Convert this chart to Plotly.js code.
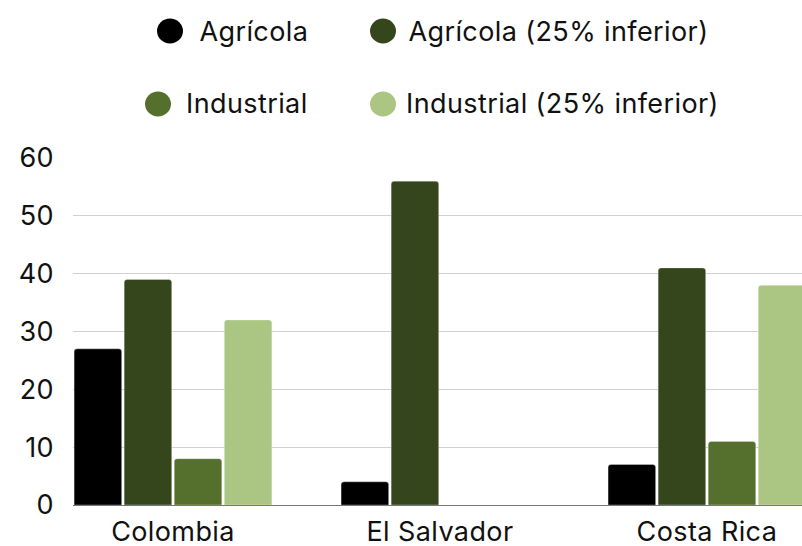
<!DOCTYPE html>
<html>
<head>
<meta charset="utf-8">
<script src="https://cdn.plot.ly/plotly-3.0.1.min.js"></script>
<style>
html,body{margin:0;padding:0;background:#fff;}
#chart{width:802px;height:546px;}
#chart text{letter-spacing:0.4px;}
</style>
</head>
<body>
<div id="chart"></div>
<script>
const categories = ["Colombia", "El Salvador", "Costa Rica"];
const seriesNames = ["Agrícola", "Agrícola (25% inferior)", "Industrial", "Industrial (25% inferior)"];
const agricola = [27, 4, 7];
const agricola25 = [39, 56, 41];
const industrial = [8, null, 11];
const industrial25 = [32, null, 38];
const colors = ["#000000", "#36461c", "#55702d", "#abc682"];
const yTicks = [0, 10, 20, 30, 40, 50, 60];

const values = [agricola, agricola25, industrial, industrial25];
const FONT = "Inter, 'Noto Sans', sans-serif";
const FS = 27;

const traces = values.map((v, i) => ({
  type: "bar",
  name: seriesNames[i],
  x: categories,
  y: v,
  marker: {color: colors[i], line: {color: "rgba(255,255,255,0.6)", width: 0.5}, cornerradius: 3},
  showlegend: false,
  hoverinfo: "x+y+name"
}));

// layout geometry
const W = 802, H = 546, ML = 73, MR = 0, MT = 158, MB = 41;
const pw = W - ML - MR, ph = H - MT - MB;
const px = p => (p - ML) / pw;
const py = p => (H - MB - p) / ph;

// legend (2x2 grid) built from series names/colours
const legendPos = [
  {cx: 170, tx: 199, cy: 31},
  {cx: 383, tx: 411, cy: 31},
  {cx: 158, tx: 186, cy: 104},
  {cx: 383, tx: 409, cy: 104}
];
const shapes = [], annotations = [];
seriesNames.forEach((n, i) => {
  const p = legendPos[i];
  shapes.push({
    type: "circle", xref: "paper", yref: "paper",
    xsizemode: "pixel", ysizemode: "pixel",
    xanchor: px(p.cx), yanchor: py(p.cy),
    x0: -13, x1: 13, y0: -12.5, y1: 12.5,
    fillcolor: colors[i], line: {width: 0}
  });
  annotations.push({
    xref: "paper", yref: "paper", x: px(p.tx), y: py(p.cy),
    xanchor: "left", yanchor: "middle", showarrow: false,
    text: n, font: {family: FONT, size: FS, color: "#111"}
  });
});

const layout = {
  width: W, height: H,
  margin: {l: ML, r: MR, t: MT, b: MB, pad: 0},
  paper_bgcolor: "#ffffff", plot_bgcolor: "#ffffff",
  barmode: "group", bargap: 0.25, bargroupgap: 0.05,
  barcornerradius: 3,
  showlegend: false,
  font: {family: FONT, size: FS, color: "#111"},
  xaxis: {
    type: "category",
    range: [-0.3745, 2.356],
    showgrid: false, zeroline: false,
    showline: true, linecolor: "#777", linewidth: 1,
    ticks: "", ticklabelstandoff: 3,
    tickfont: {family: FONT, size: FS, color: "#111"}
  },
  yaxis: {
    range: [0, 60], tickvals: yTicks, ticktext: yTicks.map(String),
    showgrid: true, gridcolor: "#d0d0d0", gridwidth: 1,
    zeroline: false, showline: false, ticks: "",
    ticklabelstandoff: 18,
    tickfont: {family: FONT, size: FS, color: "#111"}
  },
  shapes: shapes,
  annotations: annotations
};

Plotly.newPlot("chart", traces, layout, {displayModeBar: false, staticPlot: true});
</script>
</body>
</html>
